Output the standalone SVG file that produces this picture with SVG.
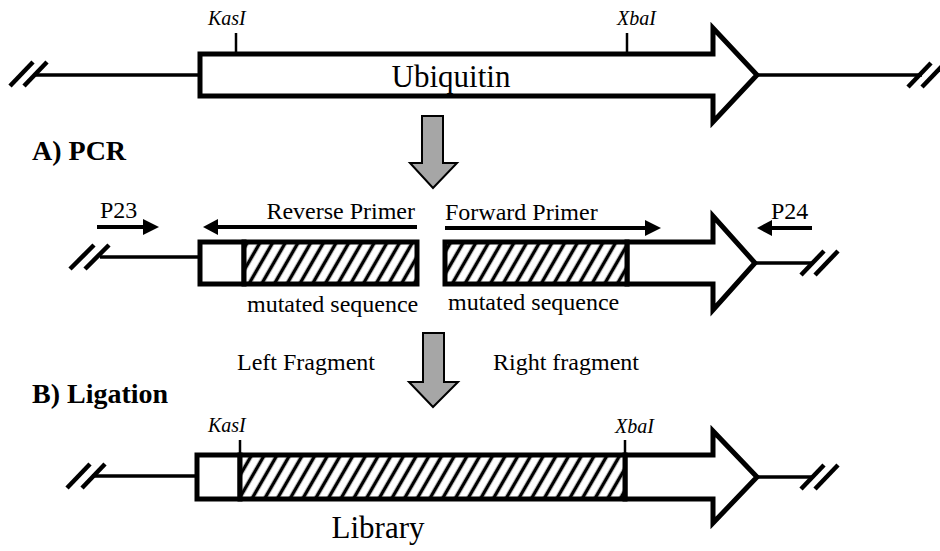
<svg xmlns="http://www.w3.org/2000/svg" width="940" height="551" viewBox="0 0 940 551">
<style>
  text { font-family: "Liberation Serif", "Times New Roman", serif; fill: #000; }
  .lbl { font-size: 24px; }
  .site { font-size: 20px; font-style: italic; }
  .step { font-size: 28px; font-weight: bold; }
  .big { font-size: 31px; }
  .dna { stroke: #000; stroke-width: 3.5; fill: none; }
  .cut { stroke: #000; stroke-width: 4.5; fill: none; }
  .gene { stroke: #000; stroke-width: 5; fill: #fff; stroke-linejoin: miter; }
  .hatch { stroke: #000; stroke-width: 5; fill: url(#hatch); }
  .tick { stroke: #000; stroke-width: 2.5; }
  .primer { stroke: #000; stroke-width: 4; fill: none; }
  .head { fill: #000; }
  .step-arrow { fill: #a6a6a6; stroke: #000; stroke-width: 2; stroke-linejoin: miter; }
</style>
<defs>
  <pattern id="hatch" patternUnits="userSpaceOnUse" width="11" height="11" patternTransform="rotate(30)">
    <rect width="11" height="11" fill="#fff"/>
    <line x1="5.5" y1="0" x2="5.5" y2="11" stroke="#000" stroke-width="3.5"/>
  </pattern>
</defs>
<rect width="940" height="551" fill="#fff"/>

<!-- Top: Ubiquitin gene -->
<g id="ubiquitin">
  <line class="dna" x1="35" y1="75" x2="200" y2="75"/>
  <line class="cut" x1="10" y1="86" x2="33" y2="62"/>
  <line class="cut" x1="24" y1="86" x2="47" y2="62"/>
  <polygon class="gene" points="200,54 713,54 713,28 757,75 713,122 713,96 200,96"/>
  <line class="dna" x1="757" y1="75" x2="922" y2="75"/>
  <line class="cut" x1="908" y1="87" x2="931" y2="63"/>
  <line class="cut" x1="922" y1="87" x2="945" y2="63"/>
  <line class="tick" x1="236" y1="33" x2="236" y2="54"/>
  <line class="tick" x1="627" y1="33" x2="627" y2="54"/>
  <text class="site" x="208" y="25">KasI</text>
  <text class="site" x="617" y="25">XbaI</text>
  <text class="big" x="451" y="87" text-anchor="middle">Ubiquitin</text>
</g>

<g id="label-pcr"><text class="step" x="32" y="160">A) PCR</text></g>

<!-- Middle: PCR fragments -->
<g id="left-fragment">
  <line class="dna" x1="100" y1="257" x2="200" y2="257"/>
  <line class="cut" x1="70" y1="269" x2="94" y2="245"/>
  <line class="cut" x1="85" y1="269" x2="109" y2="245"/>
  <rect class="gene" x="200" y="242" width="44" height="42"/>
  <rect class="hatch" x="244" y="242" width="173" height="42"/>
  <text class="lbl" x="247" y="312">mutated sequence</text>
</g>
<g id="right-fragment">
  <polygon class="gene" points="627,242 713,242 713,216 755,263 713,310 713,284 627,284"/>
  <rect class="hatch" x="445" y="242" width="182" height="42"/>
  <line class="dna" x1="755" y1="263" x2="812" y2="263"/>
  <line class="cut" x1="801" y1="275" x2="824" y2="251"/>
  <line class="cut" x1="815" y1="275" x2="838" y2="251"/>
  <text class="lbl" x="448" y="310">mutated sequence</text>
</g>

<g id="primers">
  <line class="primer" x1="97" y1="227" x2="145" y2="227"/>
  <polygon class="head" points="143,219 159,227 143,235"/>
  <text class="lbl" x="100" y="218">P23</text>
  <line class="primer" x1="417" y1="227" x2="216" y2="227"/>
  <polygon class="head" points="218,219 203,227 218,235"/>
  <text class="lbl" x="415" y="219" text-anchor="end">Reverse Primer</text>
  <line class="primer" x1="445" y1="228" x2="646" y2="228"/>
  <polygon class="head" points="645,220 661,228 645,236"/>
  <text class="lbl" x="445" y="220">Forward Primer</text>
  <line class="primer" x1="812" y1="228" x2="770" y2="228"/>
  <polygon class="head" points="772,220 757,228 772,236"/>
  <text class="lbl" x="771" y="219">P24</text>
</g>

<g id="label-fragments">
  <text class="lbl" x="237" y="370">Left Fragment</text>
  <text class="lbl" x="493" y="370">Right fragment</text>
</g>
<g id="label-ligation"><text class="step" x="32" y="403">B) Ligation</text></g>

<!-- Bottom: Library -->
<g id="library">
  <line class="dna" x1="92" y1="476" x2="197" y2="476"/>
  <line class="cut" x1="67" y1="488" x2="90" y2="464"/>
  <line class="cut" x1="82" y1="488" x2="105" y2="464"/>
  <polygon class="gene" points="625,455 713,455 713,431 757,477 713,523 713,499 625,499"/>
  <rect class="gene" x="197" y="455" width="43" height="44"/>
  <rect class="hatch" x="240" y="455" width="385" height="44"/>
  <line class="dna" x1="757" y1="477" x2="812" y2="477"/>
  <line class="cut" x1="801" y1="489" x2="824" y2="465"/>
  <line class="cut" x1="815" y1="489" x2="838" y2="465"/>
  <line class="tick" x1="240" y1="440" x2="240" y2="455"/>
  <line class="tick" x1="625" y1="440" x2="625" y2="455"/>
  <text class="site" x="208" y="432">KasI</text>
  <text class="site" x="615" y="433">XbaI</text>
  <text class="big" x="378" y="538" text-anchor="middle">Library</text>
</g>

<!-- Connectors: process arrows -->
<g id="connectors">
  <polygon class="step-arrow" points="422,116 443,116 443,163 457,163 433,188 410,163 422,163"/>
  <polygon class="step-arrow" points="423,333 444,333 444,382 458,382 433,407 409,382 423,382"/>
</g>
</svg>
